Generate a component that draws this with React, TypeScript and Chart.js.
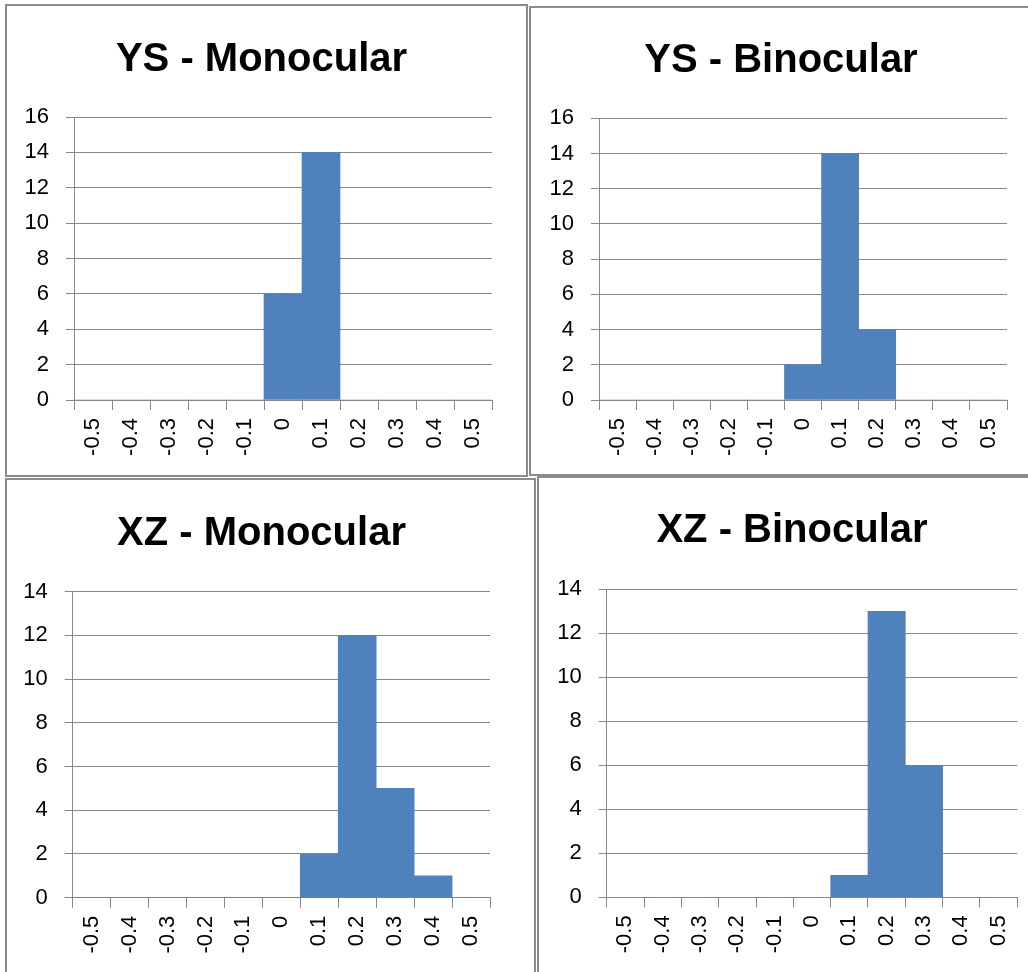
import React, { useEffect, useRef } from 'react';
import { Chart, registerables } from 'chart.js';

Chart.register(...registerables);

// ---- data ----
const xLabels = ['-0.5', '-0.4', '-0.3', '-0.2', '-0.1', '0', '0.1', '0.2', '0.3', '0.4', '0.5'];
const ysMonocular = [0, 0, 0, 0, 0, 6, 14, 0, 0, 0, 0];
const ysBinocular = [0, 0, 0, 0, 0, 2, 14, 4, 0, 0, 0];
const xzMonocular = [0, 0, 0, 0, 0, 0, 2, 12, 5, 1, 0];
const xzBinocular = [0, 0, 0, 0, 0, 0, 1, 13, 6, 0, 0];
const chartTitles = ['YS - Monocular', 'YS - Binocular', 'XZ - Monocular', 'XZ - Binocular'];
const yAxisMax = [16, 16, 14, 14];
const yAxisStep = 2;

// ---- layout / style ----
const FONT = "'Liberation Sans', Arial, sans-serif";
const GRID = '#878787';
const BAR = '#4F81BD';
const BORDER = 2;

type Lay = {
  box: [number, number, number, number];
  titleX: number;
  titleBase: number;
  L: number;
  R: number;
  T: number;
  B: number;
};

const layouts: Lay[] = [
  { box: [5, 4, 523, 473], titleX: 261.7, titleBase: 72, L: 74, R: 492, T: 117, B: 400 },
  { box: [529, 6, 600, 470], titleX: 781, titleBase: 73, L: 599, R: 1007, T: 118.3, B: 400 },
  { box: [5, 478, 531, 600], titleX: 261.7, titleBase: 546, L: 72.7, R: 490, T: 591.7, B: 897.7 },
  { box: [537, 476, 600, 600], titleX: 792.2, titleBase: 543, L: 606.7, R: 1017.3, T: 589.3, B: 897.3 },
];

const seriesList = [ysMonocular, ysBinocular, xzMonocular, xzBinocular];

function Panel({ title, values, yMax, lay }: { title: string; values: number[]; yMax: number; lay: Lay }) {
  const ref = useRef<HTMLCanvasElement | null>(null);
  const cx = lay.box[0] + BORDER;
  const cy = lay.box[1] + BORDER;
  const W = Math.round(2 * (lay.titleX - cx));
  const rW = W - (lay.R - cx);
  const H = Math.round(lay.B - cy + 76);
  const yW = lay.L - cx;
  const midY = lay.titleBase - 12.4 - cy;
  const padTop = midY - 24;
  const padBottom = lay.T - cy - padTop - 48;
  const xH = H - (lay.B - cy);

  useEffect(() => {
    if (!ref.current) return;
    const chart = new Chart(ref.current, {
      type: 'bar',
      data: {
        labels: xLabels,
        datasets: [
          {
            data: values,
            backgroundColor: BAR,
            borderWidth: 0,
            barPercentage: 1,
            categoryPercentage: 1,
            yAxisID: 'y',
          },
        ],
      },
      options: {
        animation: false,
        responsive: false,
        maintainAspectRatio: false,
        layout: { padding: 0 },
        plugins: {
          legend: { display: false },
          tooltip: { enabled: false },
          title: {
            display: true,
            text: title,
            align: 'center',
            color: '#000',
            font: { family: FONT, size: 40, weight: 'bold', lineHeight: 1.2 },
            padding: { top: padTop, bottom: padBottom },
          },
        },
        scales: {
          x: {
            type: 'category',
            offset: true,
            grid: {
              offset: true,
              drawOnChartArea: false,
              drawTicks: true,
              tickLength: 10,
              color: GRID,
              lineWidth: 1,
            },
            border: { display: true, color: GRID, width: 1 },
            ticks: {
              minRotation: 90,
              maxRotation: 90,
              autoSkip: false,
              padding: 8,
              color: '#000',
              font: { family: FONT, size: 22 },
            },
            afterFit: (s: any) => {
              s.height = xH;
              s.paddingLeft = 0;
              s.paddingRight = 0;
            },
          },
          y: {
            position: 'left',
            min: 0,
            max: yMax,
            ticks: {
              stepSize: yAxisStep,
              padding: 17,
              color: '#000',
              font: { family: FONT, size: 22 },
            },
            grid: { color: GRID, tickLength: 8, lineWidth: 1 },
            border: { display: true, color: GRID, width: 1 },
            afterFit: (s: any) => {
              s.width = yW;
              s.paddingTop = 0;
              s.paddingBottom = 0;
            },
          },
          spacer: {
            type: 'linear',
            position: 'right',
            display: true,
            grid: { display: false, drawTicks: false },
            ticks: { display: false },
            border: { display: false },
            afterFit: (s: any) => {
              s.width = rW;
              s.paddingTop = 0;
              s.paddingBottom = 0;
            },
          },
        },
      },
    } as any);
    return () => chart.destroy();
  }, []);

  return (
    <>
      <div
        style={{
          position: 'absolute',
          left: lay.box[0],
          top: lay.box[1],
          width: lay.box[2],
          height: lay.box[3],
          border: `${BORDER}px solid #8c8c8c`,
          boxSizing: 'border-box',
          background: '#fff',
        }}
      />
      <canvas
        ref={ref}
        width={W}
        height={H}
        style={{ position: 'absolute', left: cx, top: cy, width: W, height: H }}
      />
    </>
  );
}

export default function App() {
  return (
    <div
      style={{
        position: 'fixed',
        left: 0,
        top: 0,
        width: 1028,
        height: 972,
        overflow: 'hidden',
        background: '#fff',
      }}
    >
      {layouts.map((lay, i) => (
        <Panel key={i} title={chartTitles[i]} values={seriesList[i]} yMax={yAxisMax[i]} lay={lay} />
      ))}
    </div>
  );
}
